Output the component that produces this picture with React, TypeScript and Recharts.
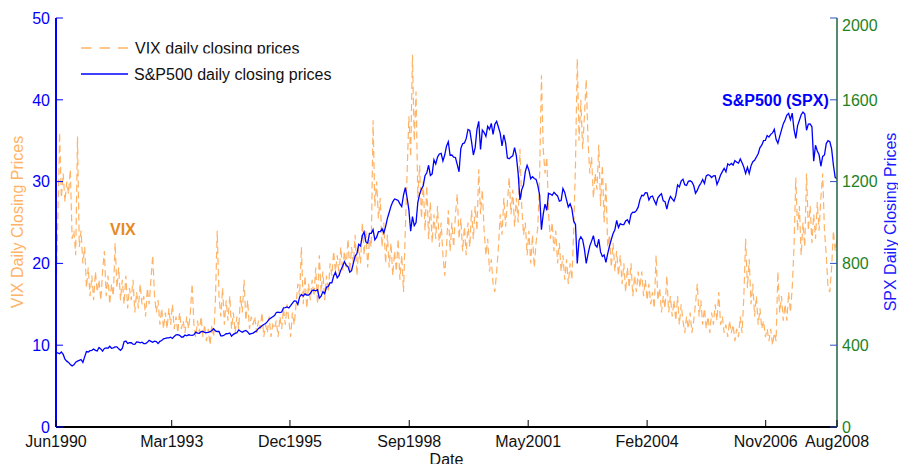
import { LineChart, Line, XAxis, YAxis } from "recharts";

const FONT = '"Liberation Sans", Arial, sans-serif';

// x positions are months since Jun 1990 (ticks sit where the original trading-day axis put them)
const dateTicks = [0, 32.3, 65.3, 98.6, 131.8, 165, 198.1, 218];
const dateLabels = ["Jun1990", "Mar1993", "Dec1995", "Sep1998", "May2001", "Feb2004", "Nov2006", "Aug2008"];
const vixTicks = [0, 10, 20, 30, 40, 50];
const spxTicks = [0, 400, 800, 1200, 1600, 2000];

// VIX, two samples per month, Jun 1990 .. Aug 2008
const vix = [
  16, 25, 36, 28, 31, 27.5, 30, 28.5, 31.5, 23, 24, 21, 35.5, 22,
  24, 20, 22, 17, 19.5, 16, 18.5, 15.5, 19, 16.5, 18, 15.5, 19, 21.5, 16, 18.5, 15, 17.5, 16, 22.5, 17, 19.5, 15.5, 18,
  15, 18.5, 14.5, 17, 15.5, 18, 14, 16.5, 14.5, 17.5, 15, 16, 13.5, 17, 15, 18, 21, 16, 14, 15.5, 12.5, 14.5, 12, 14,
  12, 14.5, 12.5, 15, 12, 13.5, 11.5, 14, 12, 13, 11.5, 13.5, 12, 14, 17.5, 12.5, 11, 13, 11.5, 13.5, 11, 12.5, 10.5, 12,
  10, 12.5, 11, 15.5, 24, 16, 13.5, 17, 12.5, 15.5, 13, 16, 12, 14, 11.5, 13.5, 12, 16, 14, 18, 13, 15.5, 12, 13.5,
  12.5, 13.5, 11.5, 13, 12, 14, 11, 12.5, 11.5, 13.5, 11, 12.5, 12, 13, 11, 13.5, 12, 14.5, 12.5, 15, 13, 11, 14, 12.5,
  15, 17.5, 16, 22, 15, 18.5, 14.5, 17.5, 15.5, 18, 16, 19.5, 15, 21, 16.5, 19, 15.5, 18.5, 16.5, 20, 18.5, 21.5, 19, 21,
  18.5, 22, 19, 21.5, 19.5, 23, 19, 22, 20, 23.5, 18.5, 22, 20, 25, 21, 24, 19.5, 23, 22, 37.5, 27, 30, 25.5, 28,
  22, 25, 20, 23.5, 19.5, 22.5, 18.5, 21.5, 19, 23, 18, 21, 16.5, 24, 31, 38, 33, 45.5, 35, 41, 28, 32, 25.5, 30,
  24, 29.5, 23, 27.5, 22.5, 26, 23, 27, 22, 25, 21, 18.5, 22, 26.5, 21.5, 25, 22, 26, 28.5, 23, 25.5, 21.5, 24.5, 21,
  25, 22, 26.5, 23, 27, 24, 31.5, 26, 29, 24, 21, 23, 19, 20.5, 17.5, 16.5, 19, 22, 26, 23.5, 28, 24.5, 27.5, 30.5,
  26, 29, 24.5, 28, 25, 34, 27, 23.5, 25, 21, 24, 20, 23.5, 19.5, 22.5, 24.5, 31, 43, 34, 31, 33, 26, 23, 25,
  21.5, 24, 20, 22.5, 19, 21, 18, 20.5, 17.5, 20, 18, 24, 32, 45, 35, 40, 34, 38, 42.5, 35, 31, 33, 28, 31,
  29, 34.5, 27, 32, 25, 30, 22, 23.5, 19.5, 22.5, 19, 21.5, 18.5, 21, 17.5, 20, 16.5, 19.5, 17, 20, 16, 18.5, 16.5, 19,
  17, 19, 16, 18, 15.5, 17.5, 15, 16.5, 14.5, 21, 15.5, 17, 14, 16, 14.5, 18.5, 14, 16, 13.5, 15.5, 13, 16, 12.5, 15,
  13, 11.5, 13.5, 12, 14, 11.5, 13, 15, 17.5, 13.5, 15.5, 12.5, 14.5, 12, 13.5, 11.5, 14, 12.5, 15, 13, 16.5, 12.5, 13.5, 11.5,
  12.5, 11, 13, 11.5, 12.5, 10.5, 12, 11, 13.5, 11.5, 16, 23, 17, 20.5, 15, 17.5, 13.5, 16, 12.5, 14.5, 12, 13, 11, 12,
  10.5, 12, 10, 11.5, 10.5, 19, 14, 16, 13, 15, 13, 16.5, 14, 17, 22, 30.5, 24, 27, 21, 25, 22, 31, 24, 27,
  22.5, 26, 23, 27.5, 24, 28, 31, 24, 21, 17, 16.5, 19.5, 24, 21.5, 23,
];

// S&P 500, same sampling
const spx = [
  363, 362, 358, 367, 355, 332, 322, 316, 306, 299, 304, 317, 322, 326,
  330, 316, 343, 369, 367, 373, 375, 381, 375, 372, 389, 382, 371, 384, 387, 385, 395, 385, 387, 392, 392, 382, 375, 384,
  417, 420, 409, 413, 412, 405, 404, 416, 415, 412, 415, 408, 408, 414, 424, 419, 414, 420, 418, 408, 419, 423, 431, 433,
  436, 436, 439, 433, 443, 451, 452, 448, 440, 440, 450, 446, 451, 449, 448, 451, 464, 459, 458, 466, 467, 463, 462, 463,
  466, 472, 481, 470, 467, 467, 446, 446, 450, 456, 457, 460, 444, 453, 458, 461, 475, 468, 463, 469, 472, 465, 454, 457,
  459, 465, 470, 482, 487, 495, 501, 506, 515, 527, 533, 539, 545, 560, 562, 559, 562, 583, 584, 587, 582, 593, 606, 617,
  616, 599, 636, 648, 640, 651, 645, 645, 654, 668, 669, 666, 671, 630, 640, 662, 652, 684, 687, 706, 705, 738, 757, 729,
  741, 767, 786, 809, 791, 784, 757, 765, 801, 836, 848, 893, 885, 935, 954, 905, 899, 947, 947, 965, 915, 928, 955, 955,
  970, 950, 980, 1020, 1049, 1080, 1101, 1115, 1112, 1108, 1091, 1078, 1134, 1170, 1121, 1062, 957, 1029, 985, 1000, 1099, 1139, 1164, 1180,
  1229, 1243, 1280, 1230, 1238, 1307, 1286, 1320, 1335, 1338, 1301, 1330, 1373, 1395, 1329, 1330, 1320, 1318, 1283, 1248, 1362, 1385, 1389, 1410,
  1455, 1450, 1394, 1330, 1366, 1455, 1495, 1357, 1452, 1440, 1421, 1470, 1455, 1485, 1431, 1480, 1495, 1466, 1436, 1374, 1429, 1389, 1315, 1312,
  1320, 1326, 1366, 1326, 1240, 1110, 1160, 1183, 1249, 1280, 1256, 1214, 1224, 1215, 1211, 1180, 1134, 965, 1041, 1090, 1060, 1142, 1139, 1133,
  1148, 1138, 1130, 1104, 1107, 1166, 1147, 1111, 1076, 1091, 1067, 1007, 990, 800, 912, 930, 916, 870, 800, 845, 886, 909, 936, 890,
  880, 918, 856, 834, 841, 805, 848, 885, 917, 946, 964, 1010, 975, 994, 990, 990, 1008, 1014, 996, 1040, 1051, 1050, 1058, 1075,
  1112, 1133, 1131, 1146, 1145, 1110, 1126, 1129, 1107, 1088, 1121, 1132, 1141, 1106, 1102, 1065, 1104, 1128, 1115, 1104, 1130, 1184, 1174, 1203,
  1212, 1185, 1181, 1201, 1204, 1198, 1181, 1143, 1157, 1178, 1192, 1210, 1191, 1228, 1234, 1230, 1220, 1228, 1229, 1186, 1207, 1232, 1249, 1265,
  1248, 1287, 1280, 1289, 1281, 1303, 1295, 1290, 1311, 1292, 1270, 1240, 1270, 1240, 1277, 1297, 1304, 1320, 1336, 1366, 1378, 1400, 1401, 1425,
  1418, 1431, 1438, 1456, 1407, 1387, 1421, 1452, 1482, 1501, 1525, 1533, 1503, 1535, 1455, 1411, 1474, 1500, 1527, 1540, 1530, 1451, 1481, 1482,
  1468, 1300, 1378, 1350, 1331, 1275, 1323, 1330, 1386, 1400, 1395, 1360, 1280, 1220, 1215,
];

const data = spx.map((s, i) => ({ m: i / 2, spx: s, vix: vix[i] }));

const BottomTick = ({ x, y, payload }: any) => (
  <g>
    <line x1={x} y1={y} x2={x} y2={y - 7} stroke="#000" />
    <text x={x} y={y + 19.5} textAnchor="middle" fontSize={16} fontFamily={FONT} fill="#111">
      {dateLabels[dateTicks.indexOf(payload.value)]}
    </text>
  </g>
);

const TopTick = ({ x, y }: any) => <line x1={x} y1={y} x2={x} y2={y + 7} stroke="#000" />;

const LeftTick = ({ x, y, payload }: any) => (
  <g>
    <line x1={x} y1={y} x2={x + 7} y2={y} stroke="#0000ff" />
    <text x={x - 6} y={y + 5.7} textAnchor="end" fontSize={16} fontFamily={FONT} fill="#0000ff">
      {payload.value}
    </text>
  </g>
);

const RightTick = ({ x, y, payload }: any) => (
  <g>
    <line x1={x} y1={y} x2={x - 7} y2={y} stroke="#3050c0" />
    <text x={x + 5} y={y + 5.7 + (payload.value === 2000 ? 7 : 0)} textAnchor="start" fontSize={16} fontFamily={FONT} fill="#1e821e">
      {payload.value}
    </text>
  </g>
);

export default function App() {
  return (
    <div style={{ position: "absolute", left: 0, top: 0, width: 898, height: 464, background: "#fff", fontFamily: FONT }}>
      <LineChart width={898} height={464} data={data} margin={{ top: 18, right: 0, bottom: 0, left: 0 }}>
        <XAxis
          dataKey="m"
          type="number"
          domain={[0, 218]}
          ticks={dateTicks}
          interval={0}
          height={37}
          tickSize={0}
          tickMargin={0}
          tickLine={false}
          axisLine={{ stroke: "#000", strokeWidth: 2 }}
          tick={<BottomTick />}
        />
        <XAxis
          xAxisId="top"
          orientation="top"
          dataKey="m"
          type="number"
          domain={[0, 218]}
          ticks={dateTicks}
          interval={0}
          height={0}
          tickSize={0}
          tickMargin={0}
          tickLine={false}
          axisLine={{ stroke: "#000", strokeWidth: 1 }}
          tick={<TopTick />}
        />
        <YAxis
          yAxisId="vix"
          domain={[0, 50]}
          ticks={vixTicks}
          interval={0}
          width={56}
          tickSize={0}
          tickMargin={0}
          tickLine={false}
          axisLine={{ stroke: "#0000ff", strokeWidth: 2 }}
          tick={<LeftTick />}
        />
        <YAxis
          yAxisId="spx"
          orientation="right"
          domain={[0, 2000]}
          ticks={spxTicks}
          interval={0}
          width={61}
          tickSize={0}
          tickMargin={0}
          tickLine={false}
          axisLine={{ stroke: "#1f6040", strokeWidth: 1.5 }}
          tick={<RightTick />}
        />
        <Line
          yAxisId="vix"
          dataKey="vix"
          type="linear"
          stroke="#ffb366"
          strokeWidth={1.2}
          strokeDasharray="7 4"
          dot={false}
          activeDot={false}
          isAnimationActive={false}
        />
        <Line
          yAxisId="spx"
          dataKey="spx"
          type="linear"
          stroke="#0000ff"
          strokeWidth={1.3}
          dot={false}
          activeDot={false}
          isAnimationActive={false}
        />
      </LineChart>

      <svg width={898} height={464} style={{ position: "absolute", left: 0, top: 0, pointerEvents: "none" }} fontFamily={FONT}>
        <defs>
          <clipPath id="legClip">
            <rect x={0} y={0} width={898} height={53.6} />
          </clipPath>
        </defs>
        {/* legend */}
        <line x1={81} y1={48} x2={128} y2={48} stroke="#ffb366" strokeWidth={1.3} strokeDasharray="10.5 8" />
        <text x={135} y={53.5} fontSize={16} fill="#111" clipPath="url(#legClip)">VIX daily closing prices</text>
        <line x1={81} y1={74} x2={128} y2={74} stroke="#0000ff" strokeWidth={1.3} />
        <text x={134} y={79.7} fontSize={16} fill="#111">S&amp;P500 daily closing prices</text>

        {/* series notes */}
        <text x={110} y={235} fontSize={16} fontWeight="bold" fill="#e68a1f">VIX</text>
        <text x={722} y={106} fontSize={16} fontWeight="bold" fill="#0000ff">S&amp;P500 (SPX)</text>

        {/* axis titles */}
        <text transform="translate(23,222) rotate(-90)" textAnchor="middle" fontSize={16} fill="#ffb366">VIX Daily Closing Prices</text>
        <text transform="translate(896,222) rotate(-90)" textAnchor="middle" fontSize={16} fill="#1a1aff">SPX Daily Closing Prices</text>
        <text x={446.5} y={465} textAnchor="middle" fontSize={16} fill="#111">Date</text>
      </svg>
    </div>
  );
}
